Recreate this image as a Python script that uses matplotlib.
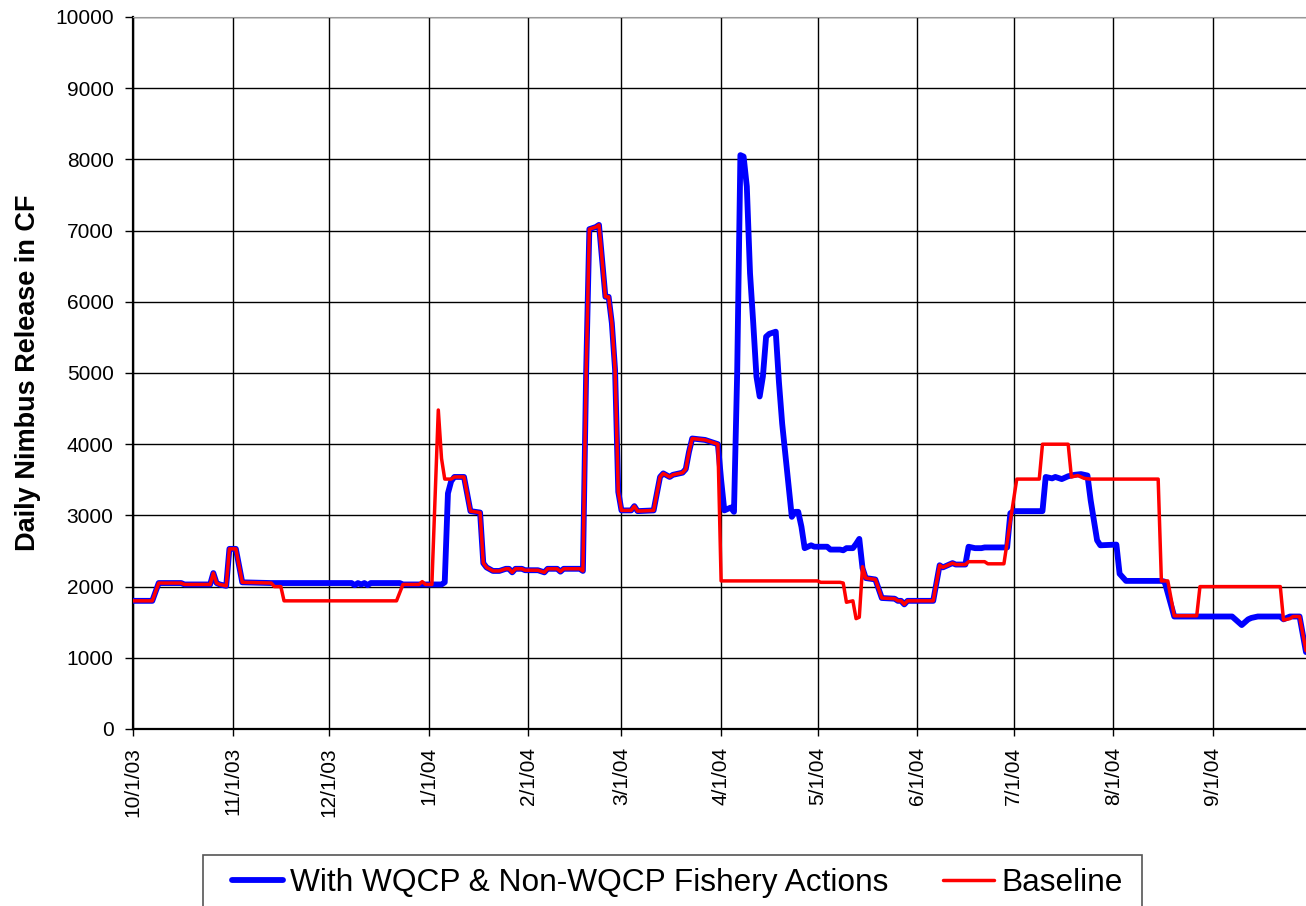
import numpy as np
import matplotlib
matplotlib.use("Agg")
import matplotlib.pyplot as plt
import matplotlib.dates as mdates
from matplotlib.patches import Rectangle

plt.rcParams["font.family"] = ["Liberation Sans", "DejaVu Sans"]

# --- data (day offset from 10/1/03, release in CF) ---
start = np.datetime64("2003-10-01")

wqcp_day = [0, 6, 8, 15, 16, 24, 25, 26, 27, 29, 30, 32, 34, 43, 68, 69, 70, 71, 72, 73,
            74, 83, 84, 96, 97, 98, 99, 100, 103, 105, 108, 109, 110, 112, 114, 116, 117, 118, 119, 121,
            122, 126, 128, 129, 132, 133, 134, 139, 140, 141, 142, 144, 145, 147, 148, 149, 150, 151, 152, 155,
            156, 157, 162, 164, 165, 167, 168, 171, 172, 173, 174, 178, 180, 182, 183, 184, 186, 187, 188, 189,
            190, 191, 192, 193, 194, 195, 196, 197, 198, 200, 201, 202, 203, 204, 205, 206, 207, 208, 209, 211,
            212, 216, 217, 220, 221, 222, 224, 225, 226, 227, 228, 231, 233, 237, 238, 239, 240, 241, 249, 251,
            252, 255, 256, 259, 260, 262, 264, 265, 272, 273, 274, 283, 284, 286, 287, 289, 291, 293, 295, 297,
            298, 300, 301, 306, 307, 309, 320, 321, 324, 342, 343, 345, 347, 348, 350, 357, 358, 360, 363, 365]
wqcp_cf = [1800, 1800, 2050, 2050, 2030, 2030, 2190, 2050, 2030, 2010, 2530, 2530, 2060, 2050, 2050, 2020, 2050, 2030, 2050, 2020,
           2050, 2050, 2030, 2030, 2060, 3310, 3480, 3540, 3540, 3060, 3040, 2330, 2270, 2220, 2220, 2250, 2250, 2200, 2250, 2250,
           2230, 2230, 2200, 2250, 2250, 2210, 2250, 2250, 2220, 5000, 7020, 7050, 7080, 6070, 6070, 5700, 5050, 3330, 3070, 3070,
           3130, 3060, 3070, 3540, 3590, 3540, 3570, 3600, 3650, 3890, 4080, 4060, 4030, 4000, 3500, 3070, 3110, 3050, 5000, 8060,
           8040, 7620, 6400, 5700, 4950, 4670, 4950, 5510, 5550, 5580, 4870, 4290, 3850, 3420, 2980, 3050, 3050, 2840, 2540, 2580,
           2560, 2560, 2520, 2520, 2510, 2540, 2540, 2600, 2670, 2260, 2120, 2100, 1840, 1830, 1800, 1800, 1750, 1800, 1800, 2300,
           2270, 2330, 2310, 2310, 2560, 2540, 2540, 2550, 2550, 3030, 3060, 3060, 3540, 3520, 3540, 3510, 3550, 3570, 3580, 3560,
           3210, 2650, 2580, 2590, 2180, 2080, 2080, 2070, 1580, 1580, 1540, 1460, 1540, 1560, 1580, 1580, 1540, 1580, 1580, 1080]

base_day = [0, 6, 8, 15, 16, 24, 25, 26, 27, 29, 30, 32, 34, 43, 44, 46, 47, 82, 84, 89,
            90, 91, 93, 95, 96, 97, 99, 100, 103, 105, 108, 109, 110, 112, 114, 116, 117, 118, 119, 121,
            122, 126, 128, 129, 132, 133, 134, 139, 140, 141, 142, 144, 145, 147, 148, 149, 150, 151, 152, 155,
            156, 157, 162, 164, 165, 167, 168, 171, 172, 173, 174, 178, 180, 182, 183, 213, 214, 220, 221, 222,
            224, 225, 226, 227, 228, 231, 233, 237, 238, 239, 240, 241, 249, 251, 252, 255, 256, 259, 260, 265,
            266, 271, 273, 275, 282, 283, 291, 292, 294, 296, 298, 319, 320, 322, 324, 331, 332, 357, 358, 360,
            361, 363, 365]
base_cf = [1800, 1800, 2050, 2050, 2030, 2030, 2190, 2050, 2030, 2010, 2530, 2530, 2060, 2050, 2000, 2000, 1800, 1800, 2030, 2030,
           2070, 2030, 2030, 4480, 3800, 3510, 3510, 3540, 3540, 3060, 3040, 2330, 2270, 2220, 2220, 2250, 2250, 2200, 2250, 2250,
           2230, 2230, 2200, 2250, 2250, 2210, 2250, 2250, 2220, 5000, 7020, 7050, 7080, 6070, 6070, 5700, 5050, 3330, 3070, 3070,
           3130, 3060, 3070, 3540, 3590, 3540, 3570, 3600, 3650, 3890, 4080, 4060, 4030, 4000, 2080, 2080, 2060, 2060, 2050, 1780,
           1800, 1550, 1570, 2280, 2120, 2100, 1840, 1830, 1800, 1800, 1750, 1800, 1800, 2300, 2270, 2330, 2310, 2310, 2350, 2350,
           2320, 2320, 2920, 3510, 3510, 4000, 4000, 3540, 3560, 3520, 3510, 3510, 2080, 2080, 1590, 1590, 2000, 2000, 1530, 1550,
           1580, 1580, 1100]

series_names = ["With WQCP & Non-WQCP Fishery Actions", "Baseline"]

wqcp_dates = start + np.array(wqcp_day).astype("timedelta64[D]")
base_dates = start + np.array(base_day).astype("timedelta64[D]")

# --- figure ---
W, H = 1306, 906
fig = plt.figure(figsize=(W / 100, H / 100), dpi=100)
ax = fig.add_axes([133 / W, 1 - 729 / H, 1 - 133 / W, (729 - 17) / H])

ax.plot(wqcp_dates, wqcp_cf, color="#0000FF", lw=4.2, solid_joinstyle="round",
        solid_capstyle="round", label=series_names[0], zorder=3)
ax.plot(base_dates, base_cf, color="#FF0000", lw=2.5, solid_joinstyle="round",
        solid_capstyle="round", label=series_names[1], zorder=4)

ax.set_xlim(start, start + np.timedelta64(365, "D"))
ax.set_ylim(0, 10000)
ax.set_yticks(np.arange(0, 10001, 1000))
ax.xaxis.set_major_locator(mdates.MonthLocator())


def fmt_date(v, p):
    d = mdates.num2date(v)
    return f"{d.month}/{d.day}/{d.year % 100:02d}"


ax.xaxis.set_major_formatter(plt.FuncFormatter(fmt_date))

ax.grid(True, color="black", lw=1.0)
ax.set_axisbelow(True)
for lbl in ax.get_xticklabels():
    lbl.set_rotation(90)
ax.tick_params(axis="x", labelsize=15, length=5, width=1, pad=8, direction="out")
ax.tick_params(axis="y", labelsize=15, length=6, width=1, pad=8, direction="out")

ax.spines["right"].set_visible(False)
ax.spines["top"].set_color("#999999")
ax.spines["left"].set_linewidth(1.6)
ax.spines["bottom"].set_linewidth(1.6)

fig.text(28 / W, 1 - 373 / H, "Daily Nimbus Release in CF", rotation=90,
         ha="center", va="center", fontsize=19.5, fontweight="bold")

# legend box (runs past the bottom edge, as in the source)
fig.patches.append(Rectangle((203 / W, -0.02), (1142 - 203) / W, 0.02 + (906 - 855) / H,
                             transform=fig.transFigure, fill=False,
                             edgecolor="#555555", lw=1.2))
fig.legend(loc="center left", bbox_to_anchor=(232 / W, 1 - 883 / H), ncol=2,
           fontsize=22.8, frameon=False, handlelength=1.6, handletextpad=0.22,
           columnspacing=1.75, borderpad=0, borderaxespad=0)

fig.savefig("out.png", dpi=100)
